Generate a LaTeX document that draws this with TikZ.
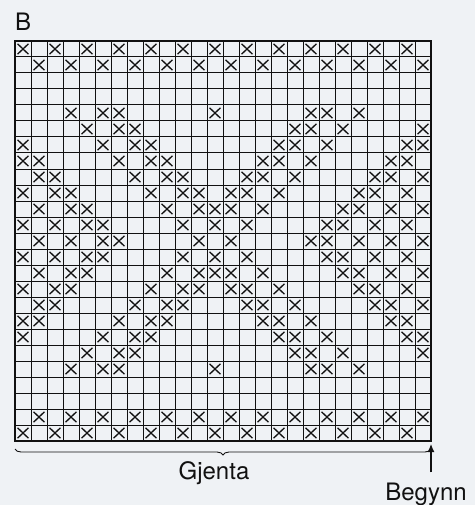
\documentclass[tikz,border=0pt]{standalone}
\usepackage{fontspec}
\setmainfont{TeX Gyre Heros}
\usetikzlibrary{arrows.meta,positioning,shapes.misc,decorations.pathreplacing}
\definecolor{paper}{HTML}{EFF2F5}
\definecolor{ink}{HTML}{111111}

\begin{document}
\begin{tikzpicture}[x=1pt,y=-1pt,font=\fontsize{24}{28}\selectfont,
    gridline/.style={draw=ink,line width=1pt},
    border/.style={draw=ink,line width=2.9pt},
    stitch/.style={cross out,draw=ink,line width=1.3pt,inner sep=0pt,
                   minimum width=9.5pt,minimum height=9pt},
    lbl/.style={inner sep=0pt,anchor=base,text=ink}]
  \fill[paper] (0,0) rectangle (475,505);
  \useasboundingbox (0,0) rectangle (475,505);
  \coordinate (nw) at (15,41);
  \coordinate (se) at (431,441);
  \foreach \i in {1,...,25}
    \draw[gridline] (15+16*\i,41) -- (15+16*\i,441);
  \foreach \j in {1,...,24}
    \draw[gridline] (15,41+16*\j) -- (431,41+16*\j);
  \foreach \r/\cols in {
      1/{1,3,...,25}, 2/{2,4,...,26},
      5/{4,6,7,13,19,20,22}, 6/{5,7,8,18,19,21,26},
      7/{1,6,8,9,17,18,20,25,26}, 8/{1,2,7,9,10,16,17,19,24,25},
      9/{2,3,8,10,11,15,16,18,23,24,26}, 10/{1,3,4,9,11,12,14,15,17,22,23,25},
      11/{2,4,5,10,12,13,14,16,21,22,24,26}, 12/{1,3,5,6,11,13,15,20,21,23,25},
      13/{2,4,6,7,12,14,19,20,22,24,26}, 14/{1,3,5,6,11,13,15,20,21,23,25},
      15/{2,4,5,10,12,13,14,16,21,22,24,26}, 16/{1,3,4,9,11,12,14,15,17,22,23,25},
      17/{2,3,8,10,11,15,16,18,23,24,26}, 18/{1,2,7,9,10,16,17,19,24,25},
      19/{1,6,8,9,17,18,20,25,26}, 20/{5,7,8,18,19,21,26},
      21/{4,6,7,13,19,20,22},
      24/{2,4,...,26}, 25/{1,3,...,25}}
    \foreach \c in \cols
      \node[stitch] (x-\r-\c) at (16*\c+7,16*\r+33) {};
  \draw[border] (nw) rectangle (se);
  \node[lbl,anchor=base west] (chart) at (15,30.7) {B};
  \draw[ink,line width=0.9pt,decorate,decoration={brace,mirror,amplitude=6pt}]
    ([yshift=-8pt]nw |- se) -- ([yshift=-8pt]se);
  \node[lbl] (gjenta) at (214,479) {Gjenta};
  \node[lbl] (begynn) at (426,500) {Begynn};
  \draw[ink,line width=1.1pt,-{Latex[length=8pt,width=7pt]},shorten <=10pt,shorten >=3pt]
    (begynn.north -| se) -- (se);
\end{tikzpicture}
\end{document}
